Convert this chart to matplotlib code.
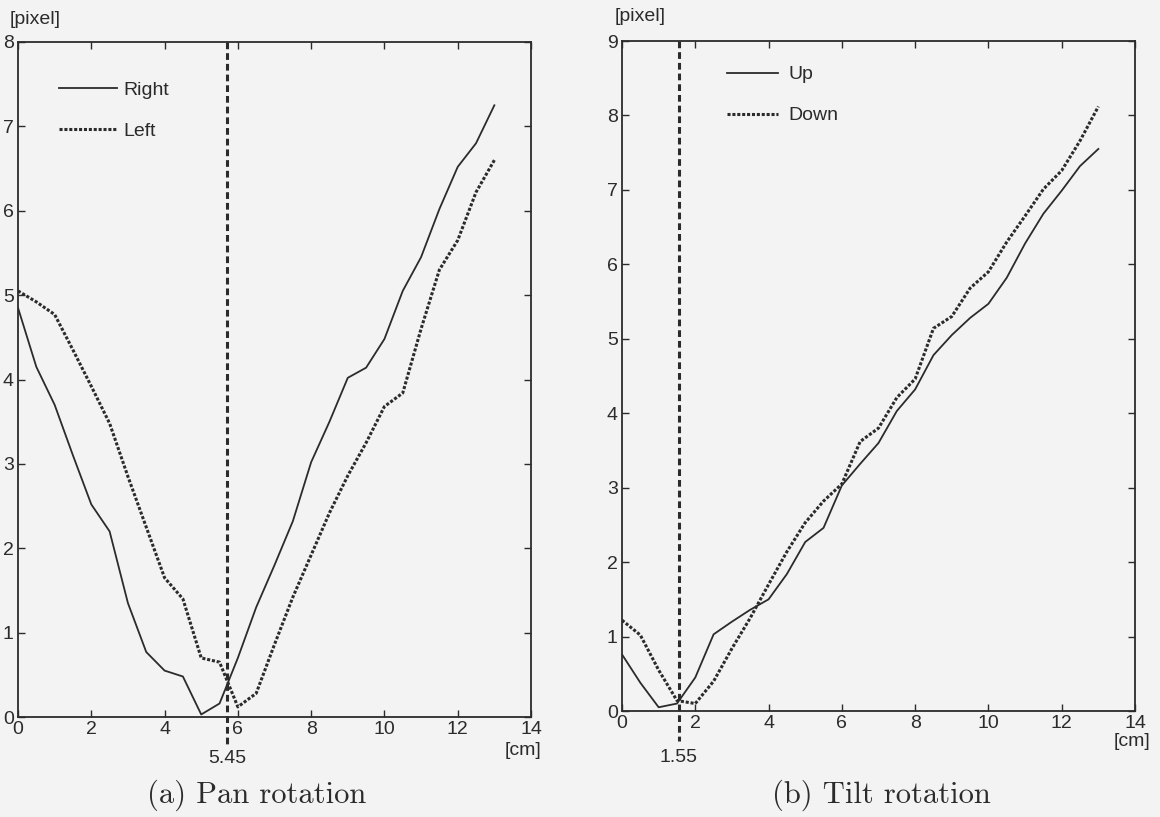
import matplotlib.pyplot as plt
import numpy as np

# distancia [cm], muestreo cada 0.5 cm
dist = np.arange(0, 13.01, 0.5)

# (a) rotacion pan
pan_right = [4.85, 4.15, 3.70, 3.10, 2.52, 2.20, 1.35, 0.77, 0.55, 0.48, 0.03, 0.16, 0.70,
             1.30, 1.80, 2.32, 3.02, 3.50, 4.02, 4.14, 4.48, 5.05, 5.45, 6.02, 6.52, 6.80, 7.25]
pan_left = [5.05, 4.92, 4.77, 4.35, 3.92, 3.48, 2.85, 2.25, 1.65, 1.40, 0.70, 0.65, 0.12,
            0.28, 0.86, 1.42, 1.92, 2.42, 2.86, 3.25, 3.68, 3.84, 4.60, 5.30, 5.65, 6.22, 6.60]

# (b) rotacion tilt
tilt_up = [0.76, 0.38, 0.05, 0.10, 0.45, 1.03, 1.20, 1.36, 1.50, 1.84, 2.27, 2.46, 3.03,
           3.32, 3.60, 4.03, 4.32, 4.78, 5.05, 5.28, 5.47, 5.82, 6.28, 6.68, 6.99, 7.32, 7.55]
tilt_down = [1.22, 1.02, 0.55, 0.14, 0.10, 0.40, 0.84, 1.25, 1.70, 2.14, 2.53, 2.82, 3.05,
             3.62, 3.80, 4.21, 4.46, 5.14, 5.30, 5.68, 5.90, 6.30, 6.65, 7.01, 7.26, 7.66, 8.12]

pan_min_x, pan_min_txt = 5.7, "5.45"
tilt_min_x, tilt_min_txt = 1.55, "1.55"

W, H = 1160, 817
fondo = "#f3f3f3"
tinta = "#2b2b2b"
plt.rcParams['font.family'] = ['Liberation Sans', 'DejaVu Sans']

fig = plt.figure(figsize=(W / 100, H / 100), dpi=100, facecolor=fondo)


def ejes(x0, x1, y0, y1):
    ax = fig.add_axes([x0 / W, 1 - y1 / H, (x1 - x0) / W, (y1 - y0) / H])
    ax.set_facecolor(fondo)
    for s in ax.spines.values():
        s.set_color(tinta)
        s.set_linewidth(1.3)
    ax.tick_params(direction='in', top=True, right=True, length=5, width=1,
                   colors=tinta, labelsize=14, pad=3)
    return ax


def grafica(ax, serie1, serie2, etiquetas, ymax, linea_x, linea_txt, txt_y,
            pixel_xy, cm_xy, leg_anchor, hlen, hpad):
    ax.plot(dist, serie1, color=tinta, lw=1.3, label=etiquetas[0])
    ax.plot(dist, serie2, color=tinta, lw=2.2, ls=(0, (1, 0.6)), label=etiquetas[1])
    ax.set_xlim(0, 14)
    ax.set_ylim(0, ymax)
    ax.set_xticks(range(0, 15, 2))
    ax.set_yticks(range(0, ymax + 1))
    trans = ax.get_xaxis_transform()
    ax.plot([linea_x, linea_x], [1, -0.045], transform=trans, color=tinta, lw=2.2,
            ls=(0, (2.2, 1.3)), clip_on=False)
    ax.text(linea_x, txt_y, linea_txt, transform=trans, ha='center', va='center',
            fontsize=14, color=tinta)
    ax.text(cm_xy[0], cm_xy[1], "[cm]", transform=ax.transAxes, ha='center', va='center',
            fontsize=14, color=tinta)
    ax.text(pixel_xy[0], pixel_xy[1], "[pixel]", transform=ax.transAxes, ha='left',
            va='center', fontsize=14, color=tinta)
    ax.legend(loc='upper left', bbox_to_anchor=leg_anchor, frameon=False, fontsize=14,
              handlelength=hlen, handletextpad=hpad, labelspacing=1.2, borderpad=0,
              borderaxespad=0, labelcolor=tinta)


ax1 = ejes(18, 531, 42, 717)
grafica(ax1, pan_right, pan_left, ["Right", "Left"], 8, pan_min_x, pan_min_txt, -0.061,
        (-0.016, 1.033), (0.984, -0.049), (0.08, 0.942), 3.0, 0.3)

ax2 = ejes(622, 1135, 41, 711)
grafica(ax2, tilt_up, tilt_down, ["Up", "Down"], 9, tilt_min_x, tilt_min_txt, -0.069,
        (-0.014, 1.036), (0.994, -0.046), (0.205, 0.963), 2.6, 0.57)

fig.text(257 / W, 1 - 795 / H, "(a) Pan rotation", family='cmr10', fontsize=22,
         ha='center', va='center', color=tinta)
fig.text(881 / W, 1 - 795 / H, "(b) Tilt rotation", family='cmr10', fontsize=22,
         ha='center', va='center', color=tinta)

plt.savefig("out.png", dpi=100, facecolor=fondo)
